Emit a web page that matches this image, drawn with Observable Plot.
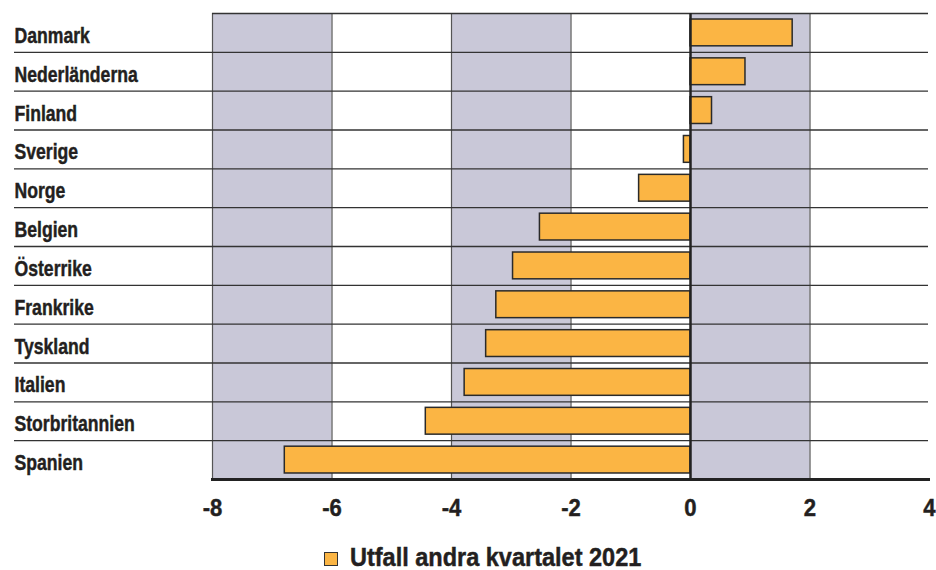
<!DOCTYPE html>
<html>
<head>
<meta charset="utf-8">
<script src="https://cdn.jsdelivr.net/npm/d3@7"></script>
<script src="https://cdn.jsdelivr.net/npm/@observablehq/plot@0.6"></script>
<style>
  body { margin: 0; background: #fff; }
  #wrap { width: 936px; height: 570px; position: relative; font-family: "Liberation Sans", Arial, sans-serif; font-weight: bold; color: #231f20; }
  #chart svg text { stroke: #231f20; stroke-width: 0.45px; }
  #legend { position: absolute; left: 324px; top: 543px; display: flex; align-items: center; font-size: 25px; white-space: nowrap; }
  #legend .sw { width: 12px; height: 12px; border: 1px solid #333; background: #fbb544; margin-right: 12px; margin-top: 3px; }
  #legend .lt { display: inline-block; transform: scaleX(0.94); transform-origin: left center; -webkit-text-stroke: 0.45px #231f20; }
</style>
</head>
<body>
<div id="wrap"><div id="chart"></div><div id="legend"></div></div>
<script>
const countries = ["Danmark","Nederländerna","Finland","Sverige","Norge","Belgien","Österrike","Frankrike","Tyskland","Italien","Storbritannien","Spanien"];
const values = [1.71, 0.92, 0.36, -0.11, -0.86, -2.52, -2.97, -3.25, -3.42, -3.78, -4.43, -6.79];
const xTicks = [-8, -6, -4, -2, 0, 2, 4];
const bandStarts = [-8, -4, 0];
const bandEnds = [-6, -2, 2];
const gridLines = [-8, -6, -4, -2, 2];
const legendLabel = "Utfall andra kvartalet 2021";

const data = countries.map((c, i) => ({country: c, value: values[i]}));
const bands = bandStarts.map((s, i) => ({x1: s, x2: bandEnds[i]}));

const W = 936, H = 530, mT = 13, mB = 51, mL = 212, mR = 7;
const step = (H - mT - mB) / countries.length;
const font = '"Liberation Sans", Arial, sans-serif';

const chart = Plot.plot({
  width: W, height: H,
  marginTop: mT, marginBottom: mB, marginLeft: mL, marginRight: mR,
  style: {fontFamily: font, fontWeight: "bold", color: "#231f20", background: "#fff"},
  x: {domain: [-8, 4]},
  y: {domain: countries, paddingInner: 0.31, paddingOuter: 0.155, round: false, axis: null},
  marks: [
    Plot.rect(bands, {x1: "x1", x2: "x2", fill: "#c9c8d8"}),
    Plot.ruleX(gridLines, {stroke: "#555", strokeWidth: 1.2}),
    Plot.ruleY(countries.slice(0, 1), {y: d => d, x1: -8, x2: 4, dy: -step / 2, stroke: "#333", strokeWidth: 1.3, insetRight: 1}),
    Plot.ruleY(countries.slice(1), {y: d => d, x1: -8, x2: 4, dy: -step / 2, stroke: "#333", strokeWidth: 1.3, insetLeft: -198, insetRight: 1}),
    Plot.barX(data, {y: "country", x: "value", fill: "#fbb544", stroke: "#2a2a2a", strokeWidth: 1.5}),
    Plot.ruleX([0], {stroke: "#222", strokeWidth: 2.5}),
    Plot.text(countries, {y: d => d, frameAnchor: "left", textAnchor: "start", dx: -198, dy: 3, fontSize: 22, fill: "#231f20"}),
    Plot.axisX(xTicks, {tickSize: 0, tickPadding: 19, fontSize: 24, fontWeight: "bold", tickFormat: d => String(d), color: "#231f20"}),
    Plot.frame({anchor: "bottom", stroke: "#222", strokeWidth: 3, insetRight: 1})
  ]
});
document.getElementById("chart").appendChild(chart);

// condensed look: compress glyphs horizontally
function squeeze(selector, factor) {
  chart.querySelectorAll(selector).forEach(t => {
    const w = t.getComputedTextLength();
    t.setAttribute("textLength", (w * factor).toFixed(1));
    t.setAttribute("lengthAdjust", "spacingAndGlyphs");
  });
}
squeeze('g[aria-label="text"] text', 0.8);
squeeze('g[aria-label="x-axis tick label"] text', 0.92);

const leg = document.getElementById("legend");
const sw = document.createElement("span"); sw.className = "sw";
const lt = document.createElement("span"); lt.className = "lt"; lt.textContent = legendLabel;
leg.appendChild(sw); leg.appendChild(lt);
</script>
</body>
</html>
